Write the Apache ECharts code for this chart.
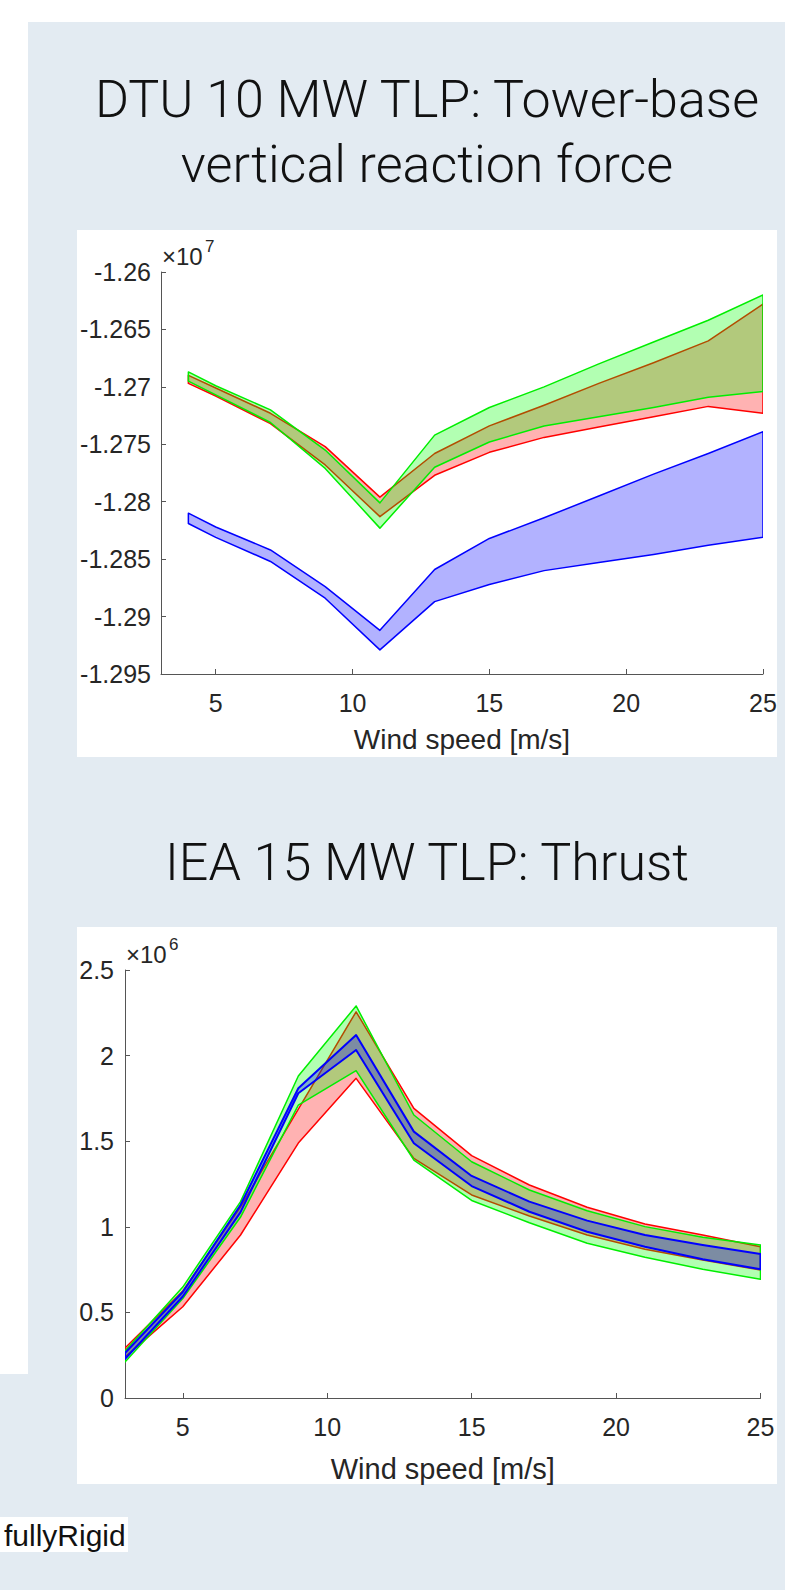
<!DOCTYPE html>
<html>
<head>
<meta charset="utf-8">
<script src="https://cdn.jsdelivr.net/npm/echarts@6/dist/echarts.min.js"></script>
<style>
html,body{margin:0;padding:0;background:#ffffff;}
#main{width:785px;height:1590px;}
</style>
</head>
<body>
<div id="main"></div>
<script>
// ---------- DATA ----------
// Chart 1: DTU 10 MW TLP tower-base vertical reaction force (values in units of 1e7 N)
const windSpeedDTU = [4, 5, 7, 9, 11, 13, 15, 17, 19, 21, 23, 25];
const dtuRedUpper   = [-1.2690, -1.2701, -1.2723, -1.2752, -1.2796, -1.2758, -1.2734, -1.2716, -1.2697, -1.2679, -1.2660, -1.2628];
const dtuRedLower   = [-1.2697, -1.2708, -1.2732, -1.2768, -1.2813, -1.2777, -1.2757, -1.2744, -1.2735, -1.2726, -1.2717, -1.2723];
const dtuGreenUpper = [-1.2687, -1.2699, -1.2720, -1.2755, -1.2801, -1.2742, -1.2718, -1.2700, -1.2680, -1.2661, -1.2642, -1.2620];
const dtuGreenLower = [-1.2695, -1.2707, -1.2731, -1.2771, -1.2823, -1.2770, -1.2748, -1.2734, -1.2726, -1.2718, -1.2709, -1.2704];
const dtuBlueUpper  = [-1.2810, -1.2822, -1.2842, -1.2874, -1.2912, -1.2859, -1.2832, -1.2814, -1.2795, -1.2776, -1.2758, -1.2739];
const dtuBlueLower  = [-1.2819, -1.2831, -1.2852, -1.2884, -1.2929, -1.2887, -1.2872, -1.2860, -1.2853, -1.2846, -1.2838, -1.2831];
const dtuYTicks = [-1.295, -1.29, -1.285, -1.28, -1.275, -1.27, -1.265, -1.26];
const dtuExponent = '7';

// Chart 2: IEA 15 MW TLP thrust (values in units of 1e6 N)
const windSpeedIEA = [3, 5, 7, 9, 11, 13, 15, 17, 19, 21, 23, 25];
const ieaRedUpper   = [0.292, 0.625, 1.116, 1.688, 2.256, 1.692, 1.416, 1.244, 1.114, 1.016, 0.952, 0.884];
const ieaRedLower   = [0.239, 0.533, 0.952, 1.489, 1.867, 1.400, 1.186, 1.063, 0.952, 0.869, 0.806, 0.748];
const ieaGreenUpper = [0.275, 0.648, 1.147, 1.881, 2.290, 1.653, 1.380, 1.215, 1.094, 1.001, 0.939, 0.894];
const ieaGreenLower = [0.210, 0.581, 1.057, 1.711, 1.912, 1.390, 1.154, 1.024, 0.904, 0.822, 0.752, 0.693];
const ieaBlueUpper  = [0.263, 0.619, 1.127, 1.809, 2.120, 1.556, 1.297, 1.147, 1.036, 0.952, 0.894, 0.841];
const ieaBlueLower  = [0.228, 0.593, 1.086, 1.780, 2.033, 1.488, 1.238, 1.088, 0.971, 0.884, 0.810, 0.752];
const ieaYTicks = [0, 0.5, 1, 1.5, 2, 2.5];
const ieaExponent = '6';

const xTicks = [5, 10, 15, 20, 25];
const xRange = [3, 25];
const xAxisTitle = 'Wind speed [m/s]';
const title1Lines = ['DTU 10 MW TLP: Tower-base', 'vertical reaction force'];
const title2Text = 'IEA 15 MW TLP: Thrust';
const cornerLabel = 'fullyRigid';

// ---------- STYLE / LAYOUT ----------
const FONT = 'Liberation Sans, Arial, Helvetica, sans-serif';
const TITLE_FONT = 'Roboto, Open Sans, sans-serif';
const PANEL = '#e3ebf2';
const AX = '#555555';
const TXT = '#262626';
const grid1 = { left: 161, top: 272, width: 602, height: 402 };
const grid2 = { left: 125, top: 970, width: 635.5, height: 428 };

function band(name, idx, xs, upper, lower, stroke, fill, z, lw) {
  const data = xs.map((x, i) => [x, lower[i], upper[i]]);
  return {
    type: 'custom', name: name, xAxisIndex: idx, yAxisIndex: idx,
    data: data, encode: { x: 0, y: [1, 2] }, z: z, silent: true, clip: true,
    renderItem: function (params, api) {
      if (params.dataIndex !== 0) return null;
      const pts = [];
      for (let i = 0; i < data.length; i++) pts.push(api.coord([data[i][0], data[i][2]]));
      for (let i = data.length - 1; i >= 0; i--) pts.push(api.coord([data[i][0], data[i][1]]));
      return { type: 'polygon', shape: { points: pts },
        style: { fill: fill, stroke: stroke, lineWidth: lw, lineJoin: 'round' } };
    }
  };
}

function xAxisFor(gi, nameGap, nameSize) {
  return {
    type: 'value', gridIndex: gi, min: xRange[0], max: xRange[1],
    name: xAxisTitle, nameLocation: 'middle', nameGap: nameGap,
    nameTextStyle: { fontFamily: FONT, fontSize: nameSize, color: TXT, lineHeight: nameSize },
    axisLine: { show: true, onZero: false, lineStyle: { color: AX, width: 1 } },
    axisTick: { show: true, inside: true, length: 5, customValues: xTicks, lineStyle: { color: AX, width: 1 } },
    axisLabel: { customValues: xTicks, fontFamily: FONT, fontSize: 25, color: TXT, margin: 16 },
    splitLine: { show: false }
  };
}

function yAxisFor(gi, ticks, margin) {
  return {
    type: 'value', gridIndex: gi, min: ticks[0], max: ticks[ticks.length - 1],
    axisLine: { show: true, onZero: false, lineStyle: { color: AX, width: 1 } },
    axisTick: { show: true, inside: true, length: 5, customValues: ticks, lineStyle: { color: AX, width: 1 } },
    axisLabel: { customValues: ticks, fontFamily: FONT, fontSize: 25, color: TXT, margin: margin,
      formatter: function (v) { return String(v); } },
    splitLine: { show: false }
  };
}

function exponentLabels(g, exp) {
  return [
    { type: 'text', z: 5, silent: true,
      style: { text: '×10', x: g.left + 1, y: g.top - 4, align: 'left', verticalAlign: 'bottom',
        font: '24px ' + FONT, fill: TXT } },
    { type: 'text', z: 5, silent: true,
      style: { text: exp, x: g.left + 44, y: g.top - 17, align: 'left', verticalAlign: 'bottom',
        font: '17px ' + FONT, fill: TXT } }
  ];
}

const chart = echarts.init(document.getElementById('main'), null, { renderer: 'svg' });

chart.setOption({
  animation: false,
  backgroundColor: '#ffffff',
  graphic: [
    { type: 'rect', z: -10, silent: true, shape: { x: 28, y: 22, width: 757, height: 1568 }, style: { fill: PANEL } },
    { type: 'rect', z: -10, silent: true, shape: { x: 0, y: 1374, width: 28, height: 216 }, style: { fill: PANEL } },
    { type: 'rect', z: -9, silent: true, shape: { x: 77, y: 230, width: 700, height: 527 }, style: { fill: '#ffffff' } },
    { type: 'rect', z: -9, silent: true, shape: { x: 77, y: 927, width: 700, height: 557 }, style: { fill: '#ffffff' } },
    { type: 'rect', z: -9, silent: true, shape: { x: 0, y: 1517, width: 128, height: 35 }, style: { fill: '#ffffff' } },
    { type: 'text', z: 5, silent: true, style: { text: title1Lines[0], x: 427, y: 99, align: 'center', verticalAlign: 'middle',
        font: '300 52px ' + TITLE_FONT, fill: '#111111' } },
    { type: 'text', z: 5, silent: true, style: { text: title1Lines[1], x: 427, y: 164, align: 'center', verticalAlign: 'middle',
        font: '300 52px ' + TITLE_FONT, fill: '#111111' } },
    { type: 'text', z: 5, silent: true, style: { text: title2Text, x: 427, y: 862, align: 'center', verticalAlign: 'middle',
        font: '300 52px ' + TITLE_FONT, fill: '#111111' } },
    { type: 'text', z: 5, silent: true, style: { text: cornerLabel, x: 4, y: 1535, align: 'left', verticalAlign: 'middle',
        font: '30px ' + FONT, fill: '#111111' } }
  ].concat(exponentLabels(grid1, dtuExponent), exponentLabels(grid2, ieaExponent)),
  grid: [ grid1, grid2 ],
  xAxis: [ xAxisFor(0, 51, 28), xAxisFor(1, 56, 29) ],
  yAxis: [ yAxisFor(0, dtuYTicks, 10), yAxisFor(1, ieaYTicks, 11) ],
  series: [
    band('Red', 0, windSpeedDTU, dtuRedUpper, dtuRedLower, '#ff0000', 'rgba(255,0,0,0.3)', 2, 1.5),
    band('Green', 0, windSpeedDTU, dtuGreenUpper, dtuGreenLower, '#00ee00', 'rgba(0,255,0,0.3)', 3, 1.5),
    band('Blue', 0, windSpeedDTU, dtuBlueUpper, dtuBlueLower, '#0000ff', 'rgba(0,0,255,0.3)', 4, 1.5),
    band('Red', 1, windSpeedIEA, ieaRedUpper, ieaRedLower, '#ff0000', 'rgba(255,0,0,0.3)', 2, 1.5),
    band('Green', 1, windSpeedIEA, ieaGreenUpper, ieaGreenLower, '#00ee00', 'rgba(0,255,0,0.3)', 3, 1.5),
    band('Blue', 1, windSpeedIEA, ieaBlueUpper, ieaBlueLower, '#0000ff', 'rgba(0,0,255,0.3)', 4, 2)
  ]
});
</script>
</body>
</html>
